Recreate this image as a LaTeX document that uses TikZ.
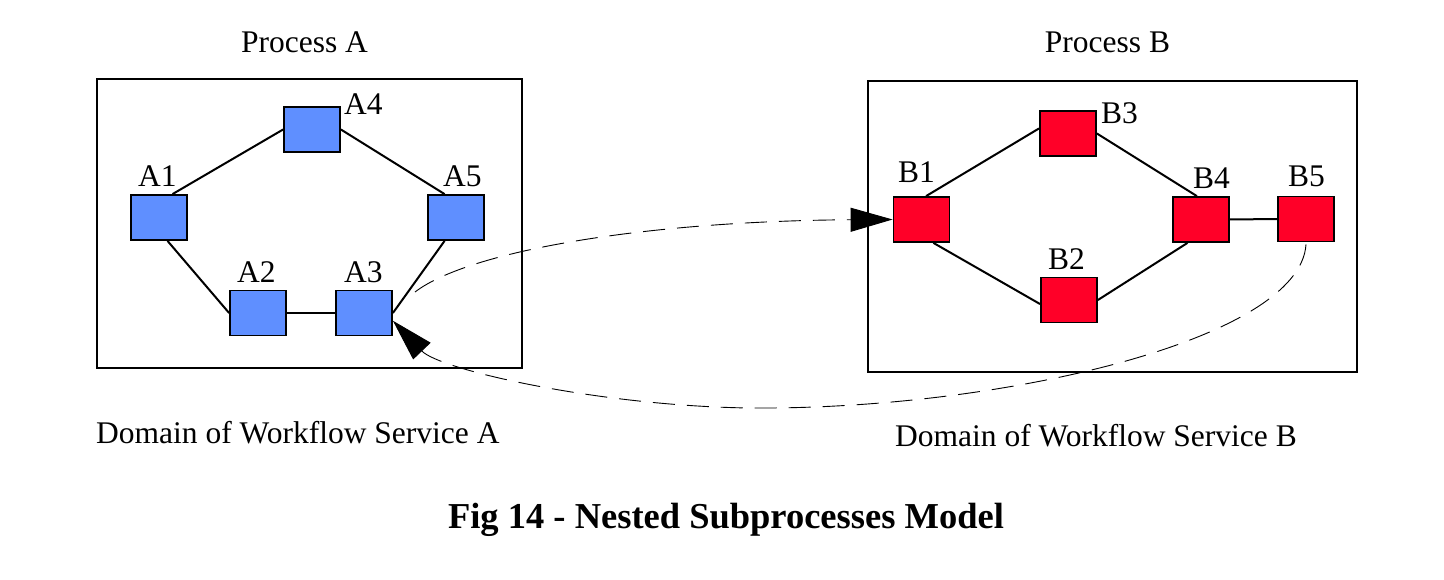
\documentclass[tikz,border=0pt]{standalone}
\usepackage{fontspec}
\setmainfont{Liberation Serif}
\usetikzlibrary{arrows.meta}

\definecolor{actA}{RGB}{95,143,255}
\definecolor{actB}{RGB}{255,0,40}

\begin{document}
\begin{tikzpicture}[x=1pt,y=-1pt,
    act/.style={shape=rectangle,draw=black,line width=1.8pt,minimum width=56pt,minimum height=45pt,inner sep=0pt},
    lbl/.style={anchor=base west,inner sep=0pt,font=\fontsize{31.5}{36}\selectfont},
    caption/.style={anchor=base,inner sep=0pt,font=\fontsize{31.5}{36}\selectfont},
    domainbox/.style={shape=rectangle,draw=black,line width=1.8pt,inner sep=0pt},
    link/.style={draw=black,line width=2pt},
    flow/.style={draw=black,line width=0.9pt,dash pattern=on 22pt off 12pt,-{Triangle[length=42pt,width=24pt]}}]

   \useasboundingbox (0,0) rectangle (1444,580);

   \node[domainbox,minimum width=425pt,minimum height=289pt] (domA) at (309.5,223.5) {};
   \node[domainbox,minimum width=489pt,minimum height=291pt] (domB) at (1112.5,226.5) {};

   \node[caption] (procA) at (304.5,53) {Process A};
   \node[caption] (procB) at (1107.5,53) {Process B};
   \node[lbl] (servA) at (96,443) {Domain of Workflow Service A};
   \node[lbl] (servB) at (895,446) {Domain of Workflow Service B};
   \node[anchor=base,inner sep=0pt,font=\fontsize{36.5}{40}\selectfont\bfseries] (fig) at (726,528) {Fig 14 - Nested Subprocesses Model};

   \node[act,fill=actA] (A1) at (159,217.5) {};
   \node[act,fill=actA] (A2) at (258,313) {};
   \node[act,fill=actA] (A3) at (364,313) {};
   \node[act,fill=actA] (A4) at (312,129.5) {};
   \node[act,fill=actA] (A5) at (456,217.5) {};

   \node[lbl] (lA1) at (138,187) {A1};
   \node[lbl] (lA2) at (237,283) {A2};
   \node[lbl] (lA3) at (344,283) {A3};
   \node[lbl] (lA4) at (344,115) {A4};
   \node[lbl] (lA5) at (443,187) {A5};

   \node[act,fill=actB] (B1) at (921.5,219.5) {};
   \node[act,fill=actB] (B2) at (1069,300) {};
   \node[act,fill=actB] (B3) at (1068,133.5) {};
   \node[act,fill=actB] (B4) at (1201,219.5) {};
   \node[act,fill=actB] (B5) at (1306,219) {};

   \node[lbl] (lB1) at (898,183) {B1};
   \node[lbl] (lB2) at (1048,270) {B2};
   \node[lbl] (lB3) at (1101,124) {B3};
   \node[lbl] (lB4) at (1193,189) {B4};
   \node[lbl] (lB5) at (1288,187) {B5};

    \path[link] (A1.60) edge (A4.west);
    \path[link] (A4.east) edge (A5.116);
    \path[link] (A1.-70) edge (A2.west);
    \path[link] (A2.east) edge (A3.west);
    \path[link] (A5.-116) edge (A3.east);

    \path[link] (B1.79) edge (B3.170);
    \path[link] (B3.east) edge (B4.100);
    \path[link] (B1.-63) edge (B2.188);
    \path[link] (B2.east) edge (B4.-120);
    \path[link] (B4.east) edge (B5.west);

   \coordinate (a3out) at (415,292);
   \draw[flow] (a3out) .. controls (470,250) and (650,221) .. (B1.west);
   \draw[flow] ([yshift=-2pt]B5.south) .. controls (1300,340) and (1000,410) .. (750,408)
      .. controls (600,406) and (440,370) .. (A3.-15);

\end{tikzpicture}
\end{document}
